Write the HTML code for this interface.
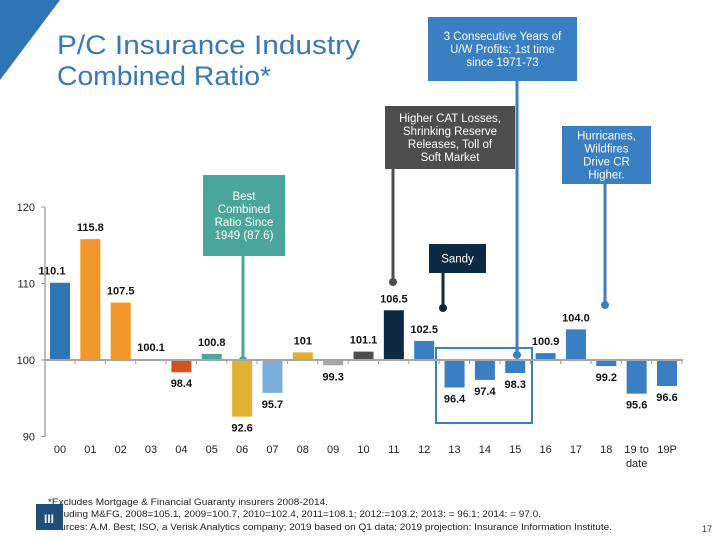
<!DOCTYPE html>
<html><head><meta charset="utf-8"><style>
body{margin:0;background:#fff;width:720px;height:540px;overflow:hidden;font-family:"Liberation Sans",sans-serif}
svg{display:block}
</style></head><body>
<svg id="c" width="720" height="540" xmlns="http://www.w3.org/2000/svg">
<polygon points="0,0 60,0 0,80" fill="#2e75b6"/>
<text x="57" y="54" font-size="27" fill="#3a78b5" textLength="303" lengthAdjust="spacingAndGlyphs">P/C Insurance Industry</text>
<text x="57" y="85" font-size="27" fill="#3a78b5" textLength="214" lengthAdjust="spacingAndGlyphs">Combined Ratio*</text>
<g id="ann"></g>
<g id="bars"></g>
<g id="axes"></g>
<g font-size="9.5" fill="#222">
<text x="48" y="505" textLength="280" lengthAdjust="spacingAndGlyphs">*Excludes Mortgage &amp; Financial Guaranty insurers 2008-2014.</text>
<text x="48" y="517" textLength="493" lengthAdjust="spacingAndGlyphs">Including M&amp;FG, 2008=105.1, 2009=100.7, 2010=102.4, 2011=108.1; 2012:=103.2; 2013: = 96.1; 2014: = 97.0.</text>
<text x="48" y="530" textLength="564" lengthAdjust="spacingAndGlyphs">Sources: A.M. Best; ISO, a Verisk Analytics company; 2019 based on Q1 data; 2019 projection: Insurance Information Institute.</text>
</g>
<rect x="36" y="504" width="27" height="26" fill="#1f4e79"/>
<text x="49" y="523" font-size="12" fill="#fff" text-anchor="middle" font-weight="bold">III</text>
<text x="712" y="532" font-size="9" fill="#333" text-anchor="end">17</text>
</svg>
<script>
const categories=["00","01","02","03","04","05","06","07","08","09","10","11","12","13","14","15","16","17","18","19 to|date","19P"];
const values=[110.1,115.8,107.5,100.1,98.4,100.8,92.6,95.7,101,99.3,101.1,106.5,102.5,96.4,97.4,98.3,100.9,104.0,99.2,95.6,96.6];
const labels=["110.1","115.8","107.5","100.1","98.4","100.8","92.6","95.7","101","99.3","101.1","106.5","102.5","96.4","97.4","98.3","100.9","104.0","99.2","95.6","96.6"];
const colors=["#2e75b6","#f0962a","#f0962a","#f0962a","#d4521e","#4aa59a","#e0b030","#7aaedc","#e0b030","#a6a6a6","#4d4d4d","#0d2a45","#3a7fc1","#3a7fc1","#3a7fc1","#3a7fc1","#3a7fc1","#3a7fc1","#3a7fc1","#3a7fc1","#3a7fc1"];
const yTicks=[90,100,110,120];
const NS="http://www.w3.org/2000/svg";
const y=v=>360-(v-100)*7.65;
const x=i=>60+i*30.35;
function mk(tag,at,parent){const e=document.createElementNS(NS,tag);for(const k in at)e.setAttribute(k,at[k]);parent.appendChild(e);return e;}
const bars=document.getElementById('bars'),axes=document.getElementById('axes'),ann=document.getElementById('ann');
values.forEach((v,i)=>{
 const top=Math.min(y(v),y(100)),h=Math.max(Math.abs(y(v)-y(100)),1);
 const r=mk('rect',{x:x(i)-10,y:top,width:20,height:h,fill:colors[i]},bars);
 
 
 const up=v>=100;
 const t=mk('text',{x:x(i)+(i==0?-8:0),y:up?y(v)-8:y(v)+15,'font-size':11,'font-weight':'bold','text-anchor':'middle',fill:'#111'},bars);
 t.textContent=labels[i];
 
 
 const parts=categories[i].split('|');
 parts.forEach((p,j)=>{const c=mk('text',{x:x(i),y:453+j*14,'font-size':11,'text-anchor':'middle',fill:'#222'},axes);c.textContent=p;
 
 });
 mk('line',{x1:x(i)+15,x2:x(i)+15,y1:360,y2:364,stroke:'#999'},axes);
});
mk('line',{x1:45,x2:683,y1:360,y2:360,stroke:'#a6a6a6','stroke-width':2},axes);
mk('line',{x1:45,x2:45,y1:207,y2:437,stroke:'#a6a6a6','stroke-width':1.5},axes);
yTicks.forEach(v=>{mk('line',{x1:41,x2:45,y1:y(v),y2:y(v),stroke:'#999'},axes);
 const t=mk('text',{x:35,y:y(v)+4,'font-size':11,'text-anchor':'end',fill:'#222'},axes);t.textContent=v;
 
 });
function box(name,bx,by,w,h,fill,lines,lx,dy){
 mk('line',{x1:lx,x2:lx,y1:by+h,y2:dy,stroke:fill,'stroke-width':3},ann);
 mk('circle',{cx:lx,cy:dy,r:4,fill:fill},ann);
 const r=mk('rect',{x:bx,y:by,width:w,height:h,fill:fill},ann);
 
 
 const n=lines.length,st=by+h/2-(n-1)*6.5+4;
 lines.forEach((l,j)=>{const t=mk('text',{x:bx+w/2,y:st+j*13,'font-size':11.5,'text-anchor':'middle',fill:'#fff'},ann);t.textContent=l;});
}
box('annotation-best-ratio',203,175,82,81,'#4aa59a',["Best","Combined","Ratio Since","1949 (87.6)"],243,360);
box('annotation-cat-losses',385,106,130,63,'#4d4d4d',["Higher CAT Losses,","Shrinking Reserve","Releases, Toll of","Soft Market"],393,282);
box('annotation-profits',428,17,149,64,'#3a7fc1',["3 Consecutive Years of","U/W Profits; 1st time","since 1971-73"],517,355);
box('annotation-hurricanes',562,126,89,58,'#3a7fc1',["Hurricanes,","Wildfires","Drive CR","Higher."],605,305);
box('annotation-sandy',429,244,57,29,'#0d2a45',["Sandy"],443,308);
const hl=mk('rect',{x:436,y:348,width:96,height:75,fill:'none',stroke:'#3a7fc1','stroke-width':2},ann);


</script>
</body></html>
